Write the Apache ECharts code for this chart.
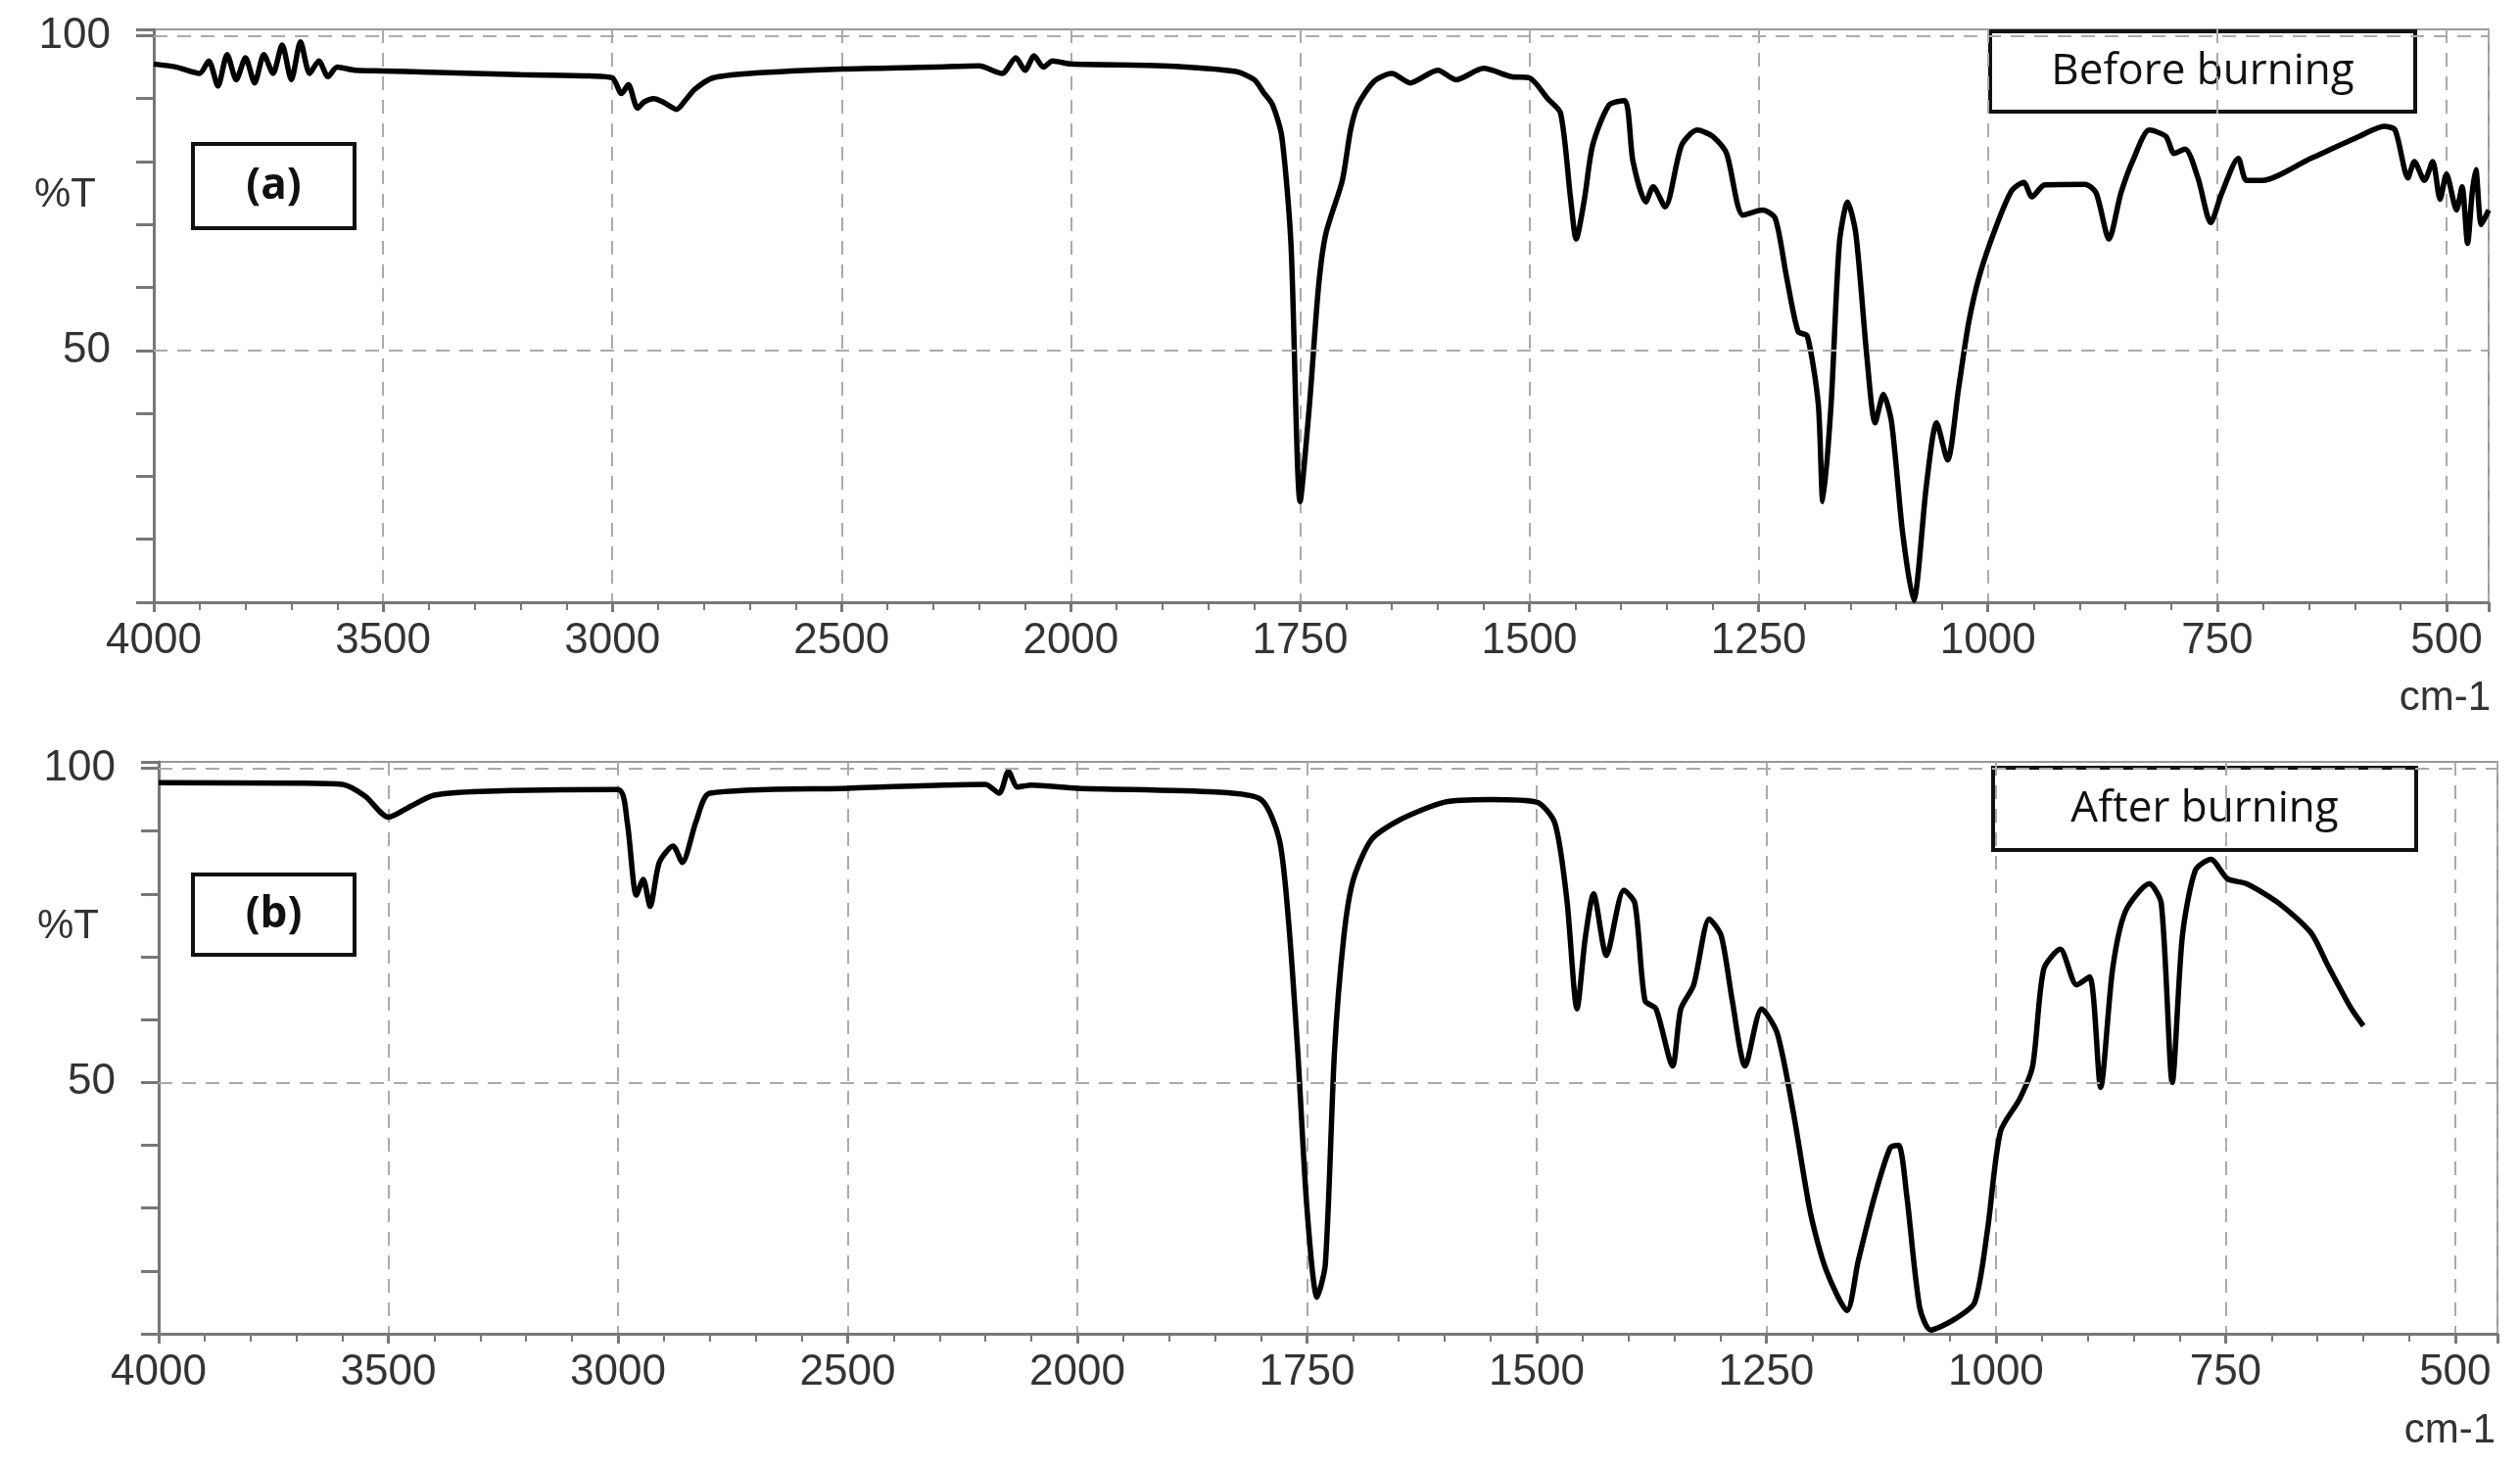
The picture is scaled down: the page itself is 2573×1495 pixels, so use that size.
<!DOCTYPE html>
<html>
<head>
<meta charset="utf-8">
<script src="https://cdn.jsdelivr.net/npm/echarts@6/dist/echarts.min.js"></script>
<style>html,body{margin:0;padding:0;background:#fff}#chart{width:2573px;height:1495px}</style>
</head>
<body>
<div id="chart"></div>
<script>
// wavenumber (cm-1) and %T
var wnA = [4000,3950,3900,3880,3860,3840,3820,3800,3780,3760,3740,3720,3700,3680,3660,3640,3620,3600,3560,3500,3400,3200,3050,3000,2980,2965,2945,2930,2910,2890,2860,2840,2820,2780,2700,2500,2300,2200,2150,2120,2100,2080,2060,2040,2000,1900,1820,1800,1790,1780,1770,1760,1750,1740,1730,1722,1704,1695,1687,1669,1650,1630,1600,1580,1550,1520,1500,1480,1466,1455,1449,1440,1431,1413,1396,1387,1373,1365,1352,1334,1317,1300,1285,1267,1246,1232,1220,1207,1197,1185,1180,1171,1162,1153,1144,1132,1123,1114,1105,1093,1081,1067,1056,1044,1032,1021,1009,991,974,961,952,938,894,882,868,855,841,824,806,797,785,771,757,745,727,718,701,648,595,568,556,542,535,524,515,507,500,489,483,477,472,468,462,454];
var tA = [95.5,95,94,96,92,97,93,96.5,92.5,97,94,98.5,93,99,94,96,93.5,95,94.5,94.4,94.2,93.8,93.6,93.3,90.8,92.2,88.5,89.5,90,89.5,88.3,89.8,91.5,93.3,94,94.7,95,95.2,94,96.5,94.5,96.8,95,96,95.5,95.2,94.3,93,91,89,84,67,26,41,60,68.5,77,85,89,92.8,94,92.5,94.5,93,94.8,93.5,93.3,90,87.7,74,67.7,74,82.6,89,89.7,80,73.6,76,72.8,82.6,85,84,81.3,71.5,72.3,71,62,53,52.3,41.5,26,41.5,67,73.6,68.5,49,38.5,43,38.5,21,10.3,28.7,38.5,32.6,44,54.4,62,69.7,75.4,76.7,74.4,76.3,76.4,75,67.7,75,80.5,85,84,81.3,82,77.4,70.3,75,80.5,77,77,80.5,84,85.6,85,77.4,80,77,80,74,78,72.3,76,67,75,78.7,70,72.3];
var wnB = [4000,3700,3600,3550,3500,3450,3400,3300,3000,2980,2960,2945,2930,2910,2880,2860,2830,2800,2500,2200,2170,2150,2130,2100,2000,1850,1800,1780,1770,1760,1750,1739,1730,1720,1710,1700,1680,1650,1600,1550,1500,1480,1467,1456,1447,1438,1424,1405,1393,1382,1370,1352,1343,1329,1312,1299,1287,1273,1255,1238,1220,1202,1185,1162,1150,1132,1115,1106,1097,1083,1071,1044,1023,1009,995,974,960,948,930,912,898,886,873,859,833,820,808,797,783,766,748,727,692,657,639,613,600];
var tB = [97.7,97.6,97.4,95.5,92.2,94,95.7,96.3,96.6,91.5,79.8,82.3,78,85,87.6,85,91.5,96,96.8,97.4,96,99.5,97,97.3,96.8,96.2,95,88.6,75.6,54.9,30,15.8,21,54.9,73,82,88.6,91.7,94.6,95,94.6,91.2,79,61.7,73,80,70.2,80.6,78.5,63,61.7,52.6,61.7,65.5,76,73.3,63,52.6,61.7,57.8,44.8,29.3,20.2,13.7,21.5,31.9,39.6,40,31.9,14.2,10.6,12.4,15,26.7,42.2,47.4,52.6,68,71.2,65.5,66.8,49.2,68,77.2,81.6,78.5,50,73.3,83.7,85.5,82.4,81.6,78.5,73.8,68.7,61.7,59];
var xTickLabels = ['4000','3500','3000','2500','2000','1750','1500','1250','1000','750','500'];

// instrument axis: half scale above 2000 cm-1, full scale below
function toU(wn) { return wn >= 2000 ? (4000 - wn) / 2 : 1000 + (2000 - wn); }
function pairs(wn, t) { return wn.map(function (w, i) { return [toU(w), t[i]]; }); }

var chart = echarts.init(document.getElementById('chart'));
var labelFont = { color: '#333', fontSize: 44, fontFamily: 'Liberation Sans' };

function xAxis(idx) {
  return {
    gridIndex: idx, type: 'value', min: 0, max: 2546, interval: 250,
    axisLine: { lineStyle: { color: '#777', width: 3 } },
    axisTick: { length: 10, lineStyle: { color: '#777', width: 3 } },
    minorTick: { show: true, splitNumber: 5, length: 8, lineStyle: { color: '#777', width: 2 } },
    axisLabel: Object.assign({ margin: 18, formatter: function (v) { return xTickLabels[Math.round(v / 250)] || ''; } }, labelFont),
    splitLine: { show: true, lineStyle: { color: '#aaa', type: [14, 10], width: 2 } }
  };
}
function yAxis(idx) {
  return {
    gridIndex: idx, type: 'value', min: 10, max: 101, interval: 10,
    axisLine: { show: true, lineStyle: { color: '#777', width: 3 } },
    axisTick: { show: true, length: 18, lineStyle: { color: '#777', width: 3 } },
    axisLabel: Object.assign({ margin: 44, formatter: function (v) { return (v === 50 || v === 100) ? String(v) : ''; } }, labelFont),
    splitLine: { show: false }
  };
}
function series(idx, data) {
  return {
    type: 'line', xAxisIndex: idx, yAxisIndex: idx, data: data, showSymbol: false, smooth: 0.25,
    lineStyle: { color: '#000', width: 5.5 }, animation: false,
    markLine: { silent: true, symbol: 'none', label: { show: false },
      lineStyle: { color: '#aaa', type: [14, 10], width: 2 }, data: [{ yAxis: 50 }, { yAxis: 100 }] }
  };
}
function box(l, t, w, h, text, bold) {
  return {
    type: 'group', left: l, top: t, children: [
      { type: 'rect', shape: { x: 0, y: 0, width: w, height: h }, style: { fill: '#fff', stroke: '#111', lineWidth: 4 } },
      { type: 'text', x: w / 2, y: h / 2, style: { text: text, fill: '#111', font: (bold ? 'bold ' : '') + '44px "Open Sans"', align: 'center', verticalAlign: 'middle' } }
    ]
  };
}

chart.setOption({
  backgroundColor: '#fff',
  grid: [
    { left: 157, right: 32, top: 30, height: 585, show: true, borderColor: '#999', borderWidth: 2 },
    { left: 162, right: 23, top: 778, height: 584, show: true, borderColor: '#999', borderWidth: 2 }
  ],
  xAxis: [xAxis(0), xAxis(1)],
  yAxis: [yAxis(0), yAxis(1)],
  series: [series(0, pairs(wnA, tA)), series(1, pairs(wnB, tB))],
  graphic: [
    { type: 'text', left: 35, top: 178, style: { text: '%T', fill: '#333', font: '42px "Liberation Sans"' } },
    { type: 'text', left: 38, top: 925, style: { text: '%T', fill: '#333', font: '42px "Liberation Sans"' } },
    { type: 'text', right: 30, top: 692, style: { text: 'cm-1', fill: '#333', font: '42px "Liberation Sans"' } },
    { type: 'text', right: 25, top: 1440, style: { text: 'cm-1', fill: '#333', font: '42px "Liberation Sans"' } },
    box(195, 145, 165, 86, '(a)', true),
    box(2030, 30, 434, 82, 'Before burning', false),
    box(195, 891, 165, 82, '(b)', true),
    box(2033, 782, 432, 84, 'After burning', false)
  ]
});
</script>
</body>
</html>
